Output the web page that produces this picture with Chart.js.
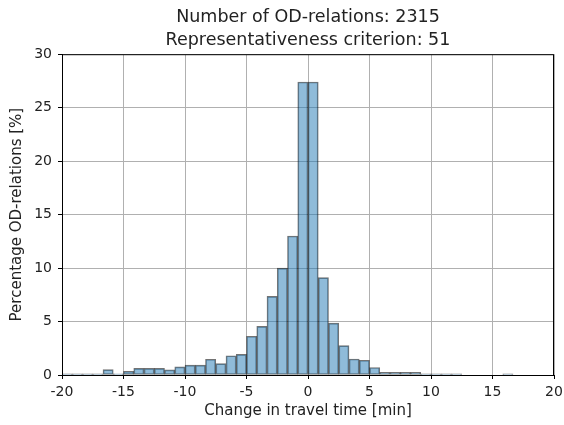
<!DOCTYPE html>
<html>
<head>
<meta charset="utf-8">
<script src="https://cdn.jsdelivr.net/npm/chart.js@4"></script>
<style>
  html, body { margin: 0; padding: 0; background: #fff; }
  #wrap { width: 564px; height: 425px; }
</style>
</head>
<body>
<div id="wrap"><canvas id="histChart" width="564" height="425"></canvas></div>
<script>
// Histogram bins: 48 bins of width 5/6 min from -20 to 20
const binStart = -20;
const binWidth = 5 / 6;
const percentages = [
  0.1, 0.1, 0.1, 0.1, 0.5, 0.12, 0.35, 0.62, 0.62, 0.62, 0.48, 0.76,
  0.93, 0.92, 1.47, 1.06, 1.8, 1.93, 3.62, 4.55, 7.35, 10.0, 13.0, 27.4,
  27.4, 9.1, 4.85, 2.75, 1.5, 1.38, 0.7, 0.25, 0.25, 0.25, 0.25, 0.1,
  0.1, 0.1, 0.1, 0, 0, 0, 0, 0.1, 0, 0, 0, 0
];
const titleLines = ['Number of OD-relations: 2315', 'Representativeness criterion: 51'];
const xTickValues = [-20, -15, -10, -5, 0, 5, 10, 15, 20];

// bar centres
const points = percentages.map((v, i) => ({ x: binStart + (i + 0.5) * binWidth, y: v }));

// matplotlib-style box around the axes
const frameBox = {
  id: 'frameBox',
  afterDraw(chart) {
    const a = chart.chartArea;
    const ctx = chart.ctx;
    ctx.save();
    ctx.strokeStyle = '#000';
    ctx.lineWidth = 1;
    ctx.strokeRect(a.left + 0.5, a.top + 0.5, a.right - a.left - 1, a.bottom - a.top);
    ctx.restore();
  }
};

const ctx = document.getElementById('histChart').getContext('2d');
new Chart(ctx, {
  type: 'bar',
  data: {
    datasets: [{
      data: points,
      backgroundColor: 'rgba(31, 119, 180, 0.5)',
      borderColor: 'rgba(0, 0, 0, 0.55)',
      borderWidth: 1,
      borderSkipped: false,
      barPercentage: 1.0,
      categoryPercentage: 1.0
    }]
  },
  options: {
    responsive: false,
    animation: false,
    layout: { padding: { left: 0, right: 10, top: 4, bottom: 5 } },
    plugins: {
      legend: { display: false },
      tooltip: { enabled: false },
      title: {
        display: true,
        fullSize: false,
        text: titleLines,
        color: '#222',
        font: { family: 'DejaVu Sans', size: 17.5, weight: 'normal', lineHeight: 1.32 },
        padding: { top: 2, bottom: 2 }
      }
    },
    scales: {
      x: {
        type: 'linear',
        min: -20,
        max: 20,
        offset: false,
        afterBuildTicks(scale) {
          scale.ticks = xTickValues.map(v => ({ value: v }));
        },
        afterFit(scale) {
          scale.height = 45;
          scale.paddingLeft = 0;
          scale.paddingRight = 0;
        },
        grid: { color: '#b0b0b0', tickColor: '#000', tickLength: 4, lineWidth: 1, offset: false },
        border: { color: '#000' },
        ticks: {
          color: '#222',
          font: { family: 'DejaVu Sans', size: 14 },
          padding: 5,
          maxRotation: 0
        },
        title: {
          display: true,
          text: 'Change in travel time [min]',
          color: '#222',
          font: { family: 'DejaVu Sans', size: 15 },
          padding: { top: 0, bottom: 0 }
        }
      },
      y: {
        min: 0,
        max: 30,
        afterFit(scale) { scale.width = 62; },
        grid: { color: '#b0b0b0', tickColor: '#000', tickLength: 4, lineWidth: 1 },
        border: { color: '#000' },
        ticks: {
          stepSize: 5,
          color: '#222',
          font: { family: 'DejaVu Sans', size: 14 },
          padding: 6
        },
        title: {
          display: true,
          text: 'Percentage OD-relations [%]',
          color: '#222',
          font: { family: 'DejaVu Sans', size: 15 },
          padding: { top: 8, bottom: 0 }
        }
      }
    }
  },
  plugins: [frameBox]
});
</script>
</body>
</html>
